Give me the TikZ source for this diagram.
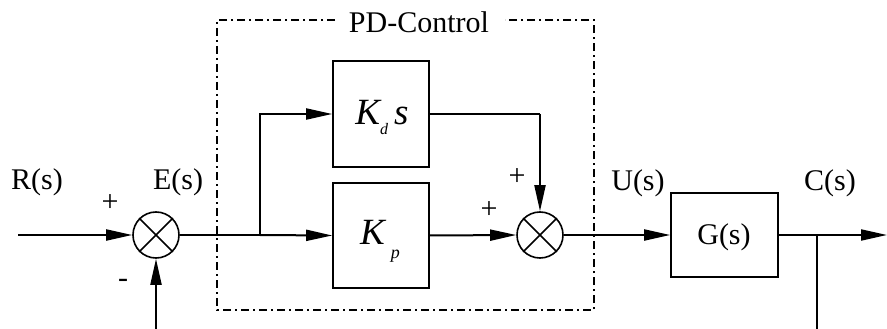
\documentclass[tikz,border=0pt]{standalone}
\usepackage{fontspec}
\setmainfont{Liberation Serif}
\usetikzlibrary{arrows.meta}
\begin{document}
\begin{tikzpicture}[x=1pt,y=-1pt,
  sig/.style={line width=2pt},
  arr/.style={sig,-{Triangle[length=26pt,width=11pt]}},
  blk/.style={draw,line width=1.6pt,minimum width=96pt,inner sep=0pt},
  sumnode/.style={draw,circle,line width=1.6pt,minimum size=46pt,inner sep=0pt},
  lbl/.style={font=\fontsize{30}{32}\selectfont,inner sep=0pt},
  sgn/.style={font=\fontsize{30}{32}\selectfont,inner sep=0pt},
  dashdot/.style={line width=1.4pt,dash pattern=on 8pt off 4pt on 2pt off 4pt}]
\useasboundingbox (0,0) rectangle (887,329);
% dash-dot box
\coordinate (tl) at (217,20);
\coordinate (br) at (594,310);
\node[lbl] (pd) at (419,22) {PD-Control};
\draw[dashdot] (335,20) -- (tl) -- (217,310) -- (br) -- (594,20) -- (505,20);
% blocks
\node[blk,minimum height=106pt] (kd) at (381,114) {};
\node[inner sep=0pt] (kdt) at (382,117) {\fontsize{37}{38}\selectfont\itshape K\raisebox{-10pt}{\fontsize{16}{16}\selectfont d}\,s};
\node[blk,minimum height=105pt] (kp) at (381,235.5) {};
\node[inner sep=0pt] (kpt) at (380,241) {\fontsize{37}{38}\selectfont\itshape K\hspace{6pt}\raisebox{-14pt}{\fontsize{18}{18}\selectfont p}};
\node[blk,minimum width=107pt,minimum height=84pt] (g) at (724.5,235) {};
\node[lbl] (gt) at (724,237) {G(s)};
% sums
\node[sumnode] (s1) at (156,235) {};
\draw[line width=1.6pt] (s1.north west) -- (s1.south east) (s1.north east) -- (s1.south west);
\node[sumnode] (s2) at (540,235) {};
\draw[line width=1.6pt] (s2.north west) -- (s2.south east) (s2.north east) -- (s2.south west);
% coordinates
\coordinate (in) at (18,235);
\coordinate (split) at (260,235);
\coordinate (up) at (260,114);
\coordinate (kdr) at (540,114);
\coordinate (out) at (887,235);
\coordinate (br2) at (817,235);
\coordinate (fbb) at (817,329);
\coordinate (fbin) at (156,329);
% connectors
\draw[arr] (in) -- (s1.west);
\draw[sig] (s1.east) -- (split);
\draw[arr] (split) -- (kp.west);
\draw[arr] (split) -- (up) -- (kd.west);
\draw[sig] (kd.east |- up) -- (kdr);
\draw[arr] (kdr) -- (s2.north);
\draw[arr] (kp.east) -- (s2.west);
\draw[arr] (s2.east) -- (g.west);
\draw[arr] (g.east) -- (out);
\draw[sig] (br2) -- (fbb);
\draw[arr] (fbin) -- (s1.south);
% labels
\node[lbl] (r) at (37,182) {R(s)};
\node[lbl] (e) at (178,182) {E(s)};
\node[lbl] (u) at (638,183) {U(s)};
\node[lbl] (c) at (830,183) {C(s)};
\node[sgn] (p1) at (110,203) {+};
\node[sgn] (m1) at (123,283) {-};
\node[sgn] (p2) at (517,177) {+};
\node[sgn] (p3) at (489,210) {+};
\end{tikzpicture}
\end{document}
